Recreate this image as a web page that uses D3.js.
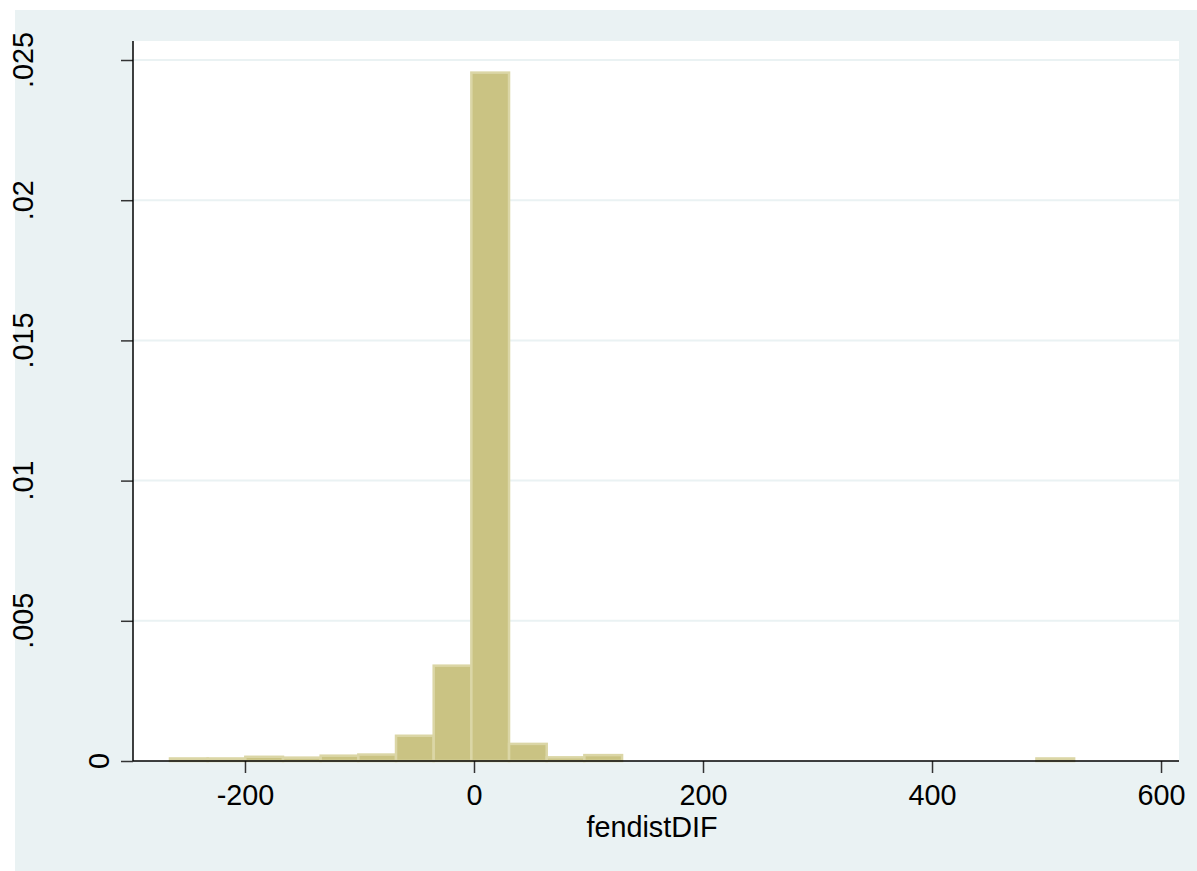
<!DOCTYPE html>
<html>
<head>
<meta charset="utf-8">
<script src="https://cdn.jsdelivr.net/npm/d3@7"></script>
<style>
  html, body { margin: 0; padding: 0; background: #ffffff; }
  svg { display: block; }
  text { font-family: "Liberation Sans", Arial, sans-serif; fill: #000; }
</style>
</head>
<body>
<svg id="chart" width="1197" height="871"></svg>
<script>
// ---- data ----
const binLow = [-265.5, -232.6, -199.7, -166.8, -133.9, -101.0, -68.1, -35.2, -2.3, 30.6, 63.5, 96.4,
                129.3, 162.2, 195.1, 228.0, 260.9, 293.8, 326.7, 359.6, 392.5, 425.4, 458.3, 491.2];
const binWidth = 32.9;
const density = [0.00009, 0.00009, 0.00015, 0.00012, 0.00019, 0.00023, 0.00090, 0.00340, 0.02455, 0.00061, 0.00013, 0.00021,
                 0, 0, 0, 0, 0, 0, 0, 0, 0, 0, 0, 0.00009];
const xTicks = [-200, 0, 200, 400, 600];
const xTickLabels = ["-200", "0", "200", "400", "600"];
const yTicks = [0, 0.005, 0.01, 0.015, 0.02, 0.025];
const yTickLabels = ["0", ".005", ".01", ".015", ".02", ".025"];
const xTitle = "fendistDIF";

// ---- layout ----
const svg = d3.select("#chart");
const plot = { left: 133, right: 1179, top: 41, bottom: 761 };

svg.append("rect").attr("x", 15).attr("y", 10).attr("width", 1182).attr("height", 861).attr("fill", "#EAF2F3");
svg.append("rect").attr("x", plot.left).attr("y", plot.top)
   .attr("width", plot.right - plot.left).attr("height", plot.bottom - plot.top).attr("fill", "#ffffff");

const x = d3.scaleLinear().domain([-297.8, 615.7]).range([plot.left, plot.right]);
const y = d3.scaleLinear().domain([0, 0.025]).range([761, 60]);

// gridlines
svg.append("g").selectAll("line").data(yTicks.filter(d => d > 0)).join("line")
  .attr("x1", plot.left).attr("x2", plot.right)
  .attr("y1", d => y(d)).attr("y2", d => y(d))
  .attr("stroke", "#EAF2F3").attr("stroke-width", 2);

// bars
const bins = binLow.map((lo, i) => ({ lo, hi: lo + binWidth, v: density[i] })).filter(d => d.v > 0);
svg.append("g").selectAll("rect").data(bins).join("rect")
  .attr("x", d => x(d.lo)).attr("width", d => x(d.hi) - x(d.lo))
  .attr("y", d => y(d.v)).attr("height", d => y(0) - y(d.v))
  .attr("fill", "#CAC383").attr("stroke", "#DBD6A6").attr("stroke-width", 2.5);

// axes
const xAxis = d3.axisBottom(x).tickValues(xTicks).tickFormat((d, i) => xTickLabels[i]).tickSize(12).tickPadding(12);
const gx = svg.append("g").attr("transform", `translate(0,${plot.bottom})`).call(xAxis);
gx.select(".domain").remove();
gx.selectAll(".tick line").attr("stroke", "#333").attr("stroke-width", 1.5);
gx.selectAll(".tick text").attr("font-size", "28.8px").attr("font-family", "Liberation Sans, Arial, sans-serif").attr("fill", "#000");

const yAxis = d3.axisLeft(y).tickValues(yTicks).tickFormat("").tickSize(12);
const gy = svg.append("g").attr("transform", `translate(${plot.left},0)`).call(yAxis);
gy.select(".domain").remove();
gy.selectAll(".tick line").attr("stroke", "#333").attr("stroke-width", 1.5);

// rotated y labels
svg.append("g").selectAll("text").data(yTicks).join("text")
  .attr("transform", (d, i) => `translate(${d === 0 ? 109 : 33},${y(d)}) rotate(-90)`)
  .attr("text-anchor", "middle")
  .attr("font-size", "28.8px")
  .text((d, i) => yTickLabels[i]);

// axis lines
svg.append("line").attr("x1", plot.left).attr("x2", plot.left).attr("y1", plot.top).attr("y2", plot.bottom)
  .attr("stroke", "#000").attr("stroke-width", 1.5);
svg.append("line").attr("x1", plot.left).attr("x2", plot.right).attr("y1", plot.bottom).attr("y2", plot.bottom)
  .attr("stroke", "#000").attr("stroke-width", 1.5);

// x title
svg.append("text").attr("x", 652).attr("y", 837).attr("text-anchor", "middle")
  .attr("font-size", "28.8px").text(xTitle);
</script>
</body>
</html>
